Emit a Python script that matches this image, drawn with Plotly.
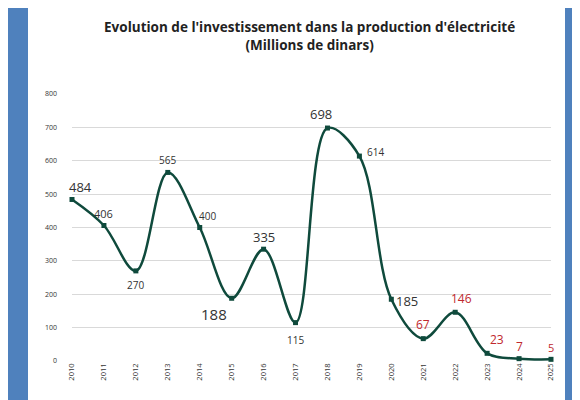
import plotly.graph_objects as go

years = list(range(2010, 2026))
values = [484, 406, 270, 565, 400, 188, 335, 115, 698, 614, 185, 67, 146, 23, 7, 5]
label_colors = ["#333333"] * 11 + ["#c0282d"] * 5
label_sizes = [13, 11, 10, 10, 10, 15, 13, 10, 13, 10, 13, 12, 12, 12, 12, 11]
label_dx = [8, 0, 0, 0, 8, -18, 0, 0, -6, 16, 16, 0, 6, 10, 0, 0]
label_dy = [-12, -12, 14, -12, -12, 16, -12, 17, -14, -4, 2, -14, -14, -14, -12, -12]

fig = go.Figure()
fig.add_trace(go.Scatter(
    x=years, y=values, mode="lines+markers",
    line=dict(color="#0f4a3c", width=2.5, shape="spline", smoothing=1.0),
    marker=dict(symbol="square", size=5, color="#0f4a3c"),
    cliponaxis=False, hoverinfo="skip"))

for x, v, c, s, dx, dy in zip(years, values, label_colors, label_sizes, label_dx, label_dy):
    fig.add_annotation(x=x, y=v, text=str(v), showarrow=False, xshift=dx, yshift=-dy,
                       font=dict(family="Open Sans", size=s, color=c))

fig.add_shape(type="rect", xref="paper", yref="paper", layer="below",
              x0=-44/479, x1=(557-64)/479, y0=-1.0, y1=2.0,
              fillcolor="white", line=dict(width=0))

fig.update_layout(
    width=580, height=400,
    margin=dict(l=64, r=37, t=86, b=47),
    paper_bgcolor="#4f81bd", plot_bgcolor="white",
    font=dict(family="Open Sans", color="#333333"),
    showlegend=False,
    title=dict(text="<b>Evolution de l'investissement dans la production d'électricité<br>(Millions de dinars)</b>",
               x=0.52, xanchor="center", y=0.94, yanchor="top",
               font=dict(family="Open Sans", size=13.5, color="#222222")),
    xaxis=dict(range=[2010, 2025], tickmode="array", tickvals=years,
               ticktext=[str(y) for y in years], tickangle=-90,
               tickfont=dict(size=7.5, color="#333333"), showgrid=False,
               zeroline=False, showline=False),
    yaxis=dict(range=[0, 800], dtick=100, tickfont=dict(size=7, color="#333333"),
               gridcolor="#d9d9d9", zeroline=False, ticklabelstandoff=14),
)
fig.write_html("out.html")
